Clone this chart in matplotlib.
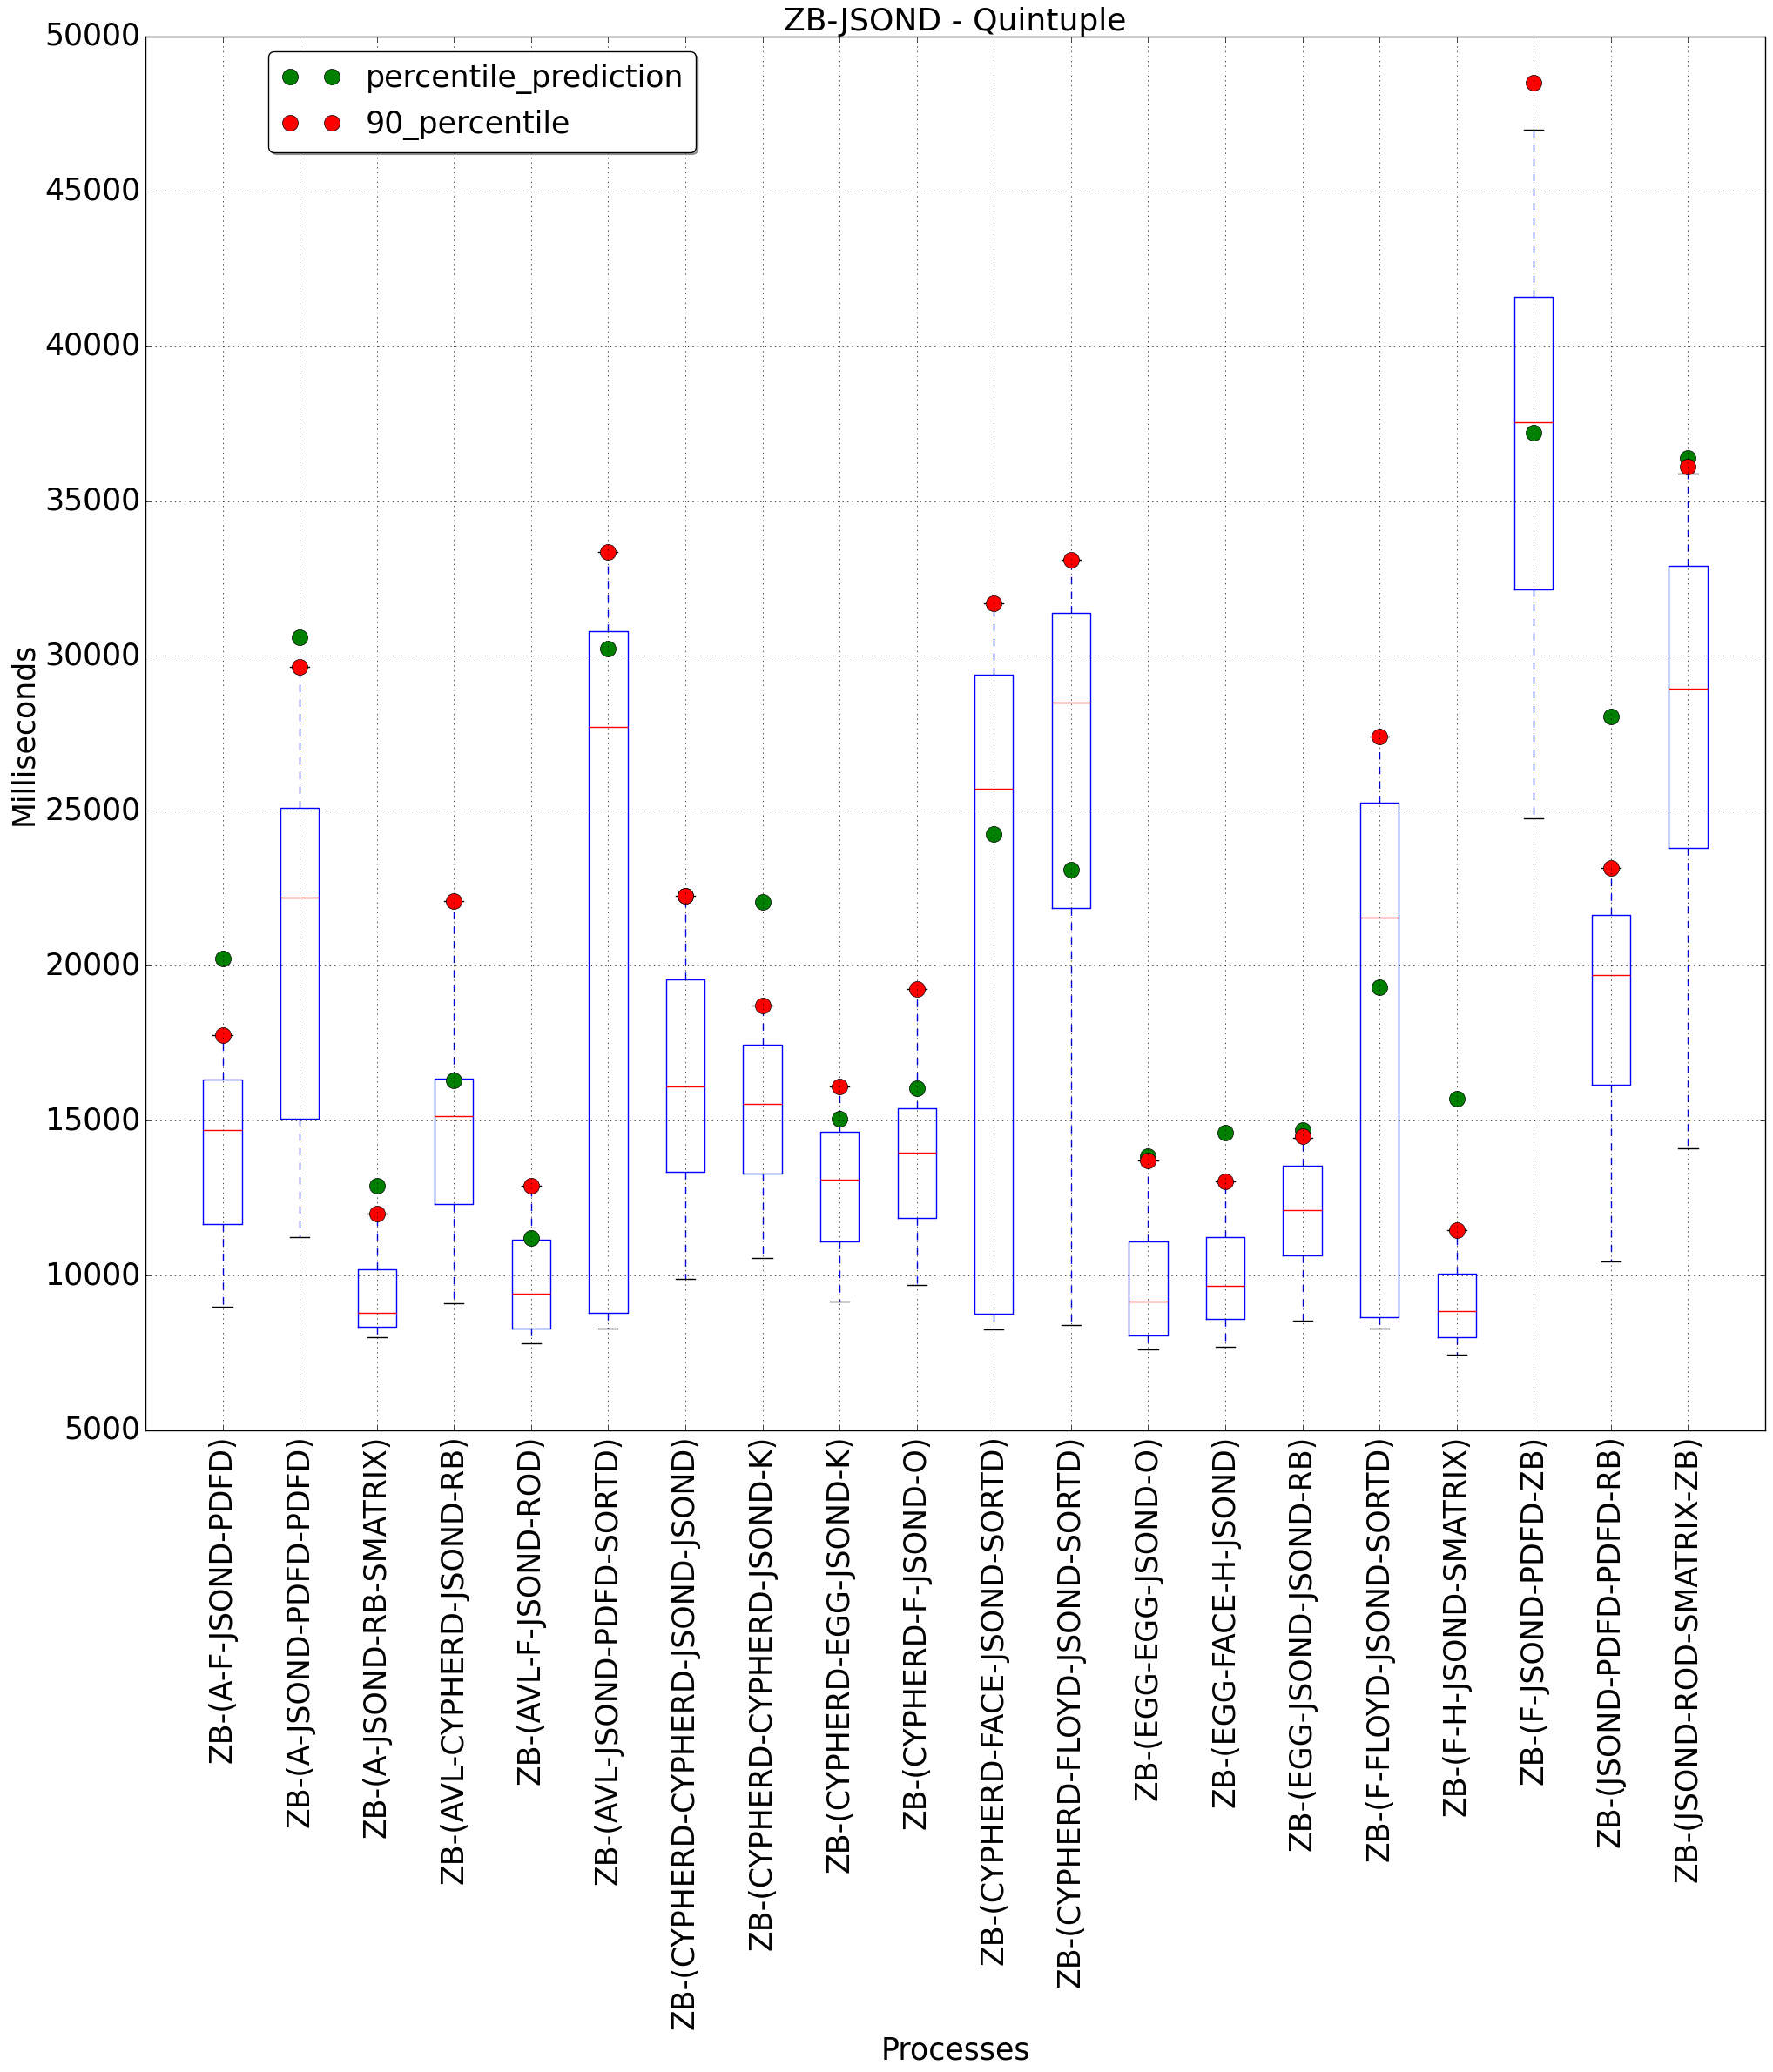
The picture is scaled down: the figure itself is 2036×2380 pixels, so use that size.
import numpy as np
import matplotlib
matplotlib.use('Agg')
import matplotlib.pyplot as plt

# ── DATA ────────────────────────────────────────────────────────
processes = [
    'ZB-(A-F-JSOND-PDFD)', 'ZB-(A-JSOND-PDFD-PDFD)', 'ZB-(A-JSOND-RB-SMATRIX)',
    'ZB-(AVL-CYPHERD-JSOND-RB)', 'ZB-(AVL-F-JSOND-ROD)', 'ZB-(AVL-JSOND-PDFD-SORTD)',
    'ZB-(CYPHERD-CYPHERD-JSOND-JSOND)', 'ZB-(CYPHERD-CYPHERD-JSOND-K)',
    'ZB-(CYPHERD-EGG-JSOND-K)', 'ZB-(CYPHERD-F-JSOND-O)',
    'ZB-(CYPHERD-FACE-JSOND-SORTD)', 'ZB-(CYPHERD-FLOYD-JSOND-SORTD)',
    'ZB-(EGG-EGG-JSOND-O)', 'ZB-(EGG-FACE-H-JSOND)', 'ZB-(EGG-JSOND-JSOND-RB)',
    'ZB-(F-FLOYD-JSOND-SORTD)', 'ZB-(F-H-JSOND-SMATRIX)', 'ZB-(F-JSOND-PDFD-ZB)',
    'ZB-(JSOND-PDFD-PDFD-RB)', 'ZB-(JSOND-ROD-SMATRIX-ZB)',
]
whisker_low = [9000, 11250, 8000, 9100, 7800, 8300, 9900, 10550, 9150, 9700,
               8250, 8400, 7600, 7700, 8550, 8300, 7450, 24750, 10450, 14100]
q1 = [11660, 15050, 8350, 12300, 8300, 8800, 13350, 13300, 11100, 11850,
      8750, 21850, 8050, 8600, 10650, 8650, 8000, 32150, 16150, 23800]
median = [14690, 22200, 8800, 15150, 9400, 27700, 16100, 15550, 13100, 13950,
          25700, 28500, 9150, 9650, 12100, 21550, 8850, 37550, 19700, 28950]
q3 = [16320, 25100, 10200, 16350, 11150, 30800, 19550, 17450, 14650, 15400,
      29400, 31400, 11100, 11250, 13550, 25250, 10050, 41600, 21650, 32900]
whisker_high = [17750, 29650, 12000, 22100, 12900, 33350, 22250, 18700, 16100, 19250,
                31700, 33100, 13700, 13050, 14450, 27400, 11450, 47000, 23150, 35900]
p90 = [17760, 29650, 12000, 22100, 12900, 33350, 22250, 18700, 16100, 19250,
       31700, 33100, 13700, 13050, 14500, 27400, 11450, 48500, 23150, 36100]
prediction = [20240, 30600, 12900, 16300, 11200, 30250, 22250, 22050, 15050, 16050,
              24250, 23100, 13850, 14600, 14700, 19300, 15700, 37200, 28050, 36400]

# ── PLOT ────────────────────────────────────────────────────────
plt.style.use('classic')
plt.rcParams['font.size'] = 25

fig = plt.figure(figsize=(20.36, 23.8), dpi=100)
ax = fig.add_axes([0.082, 0.3097, 0.9136, 0.6727])

stats = []
for i in range(len(processes)):
    stats.append({'whislo': whisker_low[i], 'q1': q1[i], 'med': median[i],
                  'q3': q3[i], 'whishi': whisker_high[i], 'fliers': []})

positions = np.arange(1, len(processes) + 1)
ax.bxp(stats, positions=positions, widths=0.5, showfliers=False)

ax.plot(positions, prediction, 'o', color='green', markeredgecolor='k',
        markersize=13, linestyle='none', label='percentile_prediction')
ax.plot(positions, p90, 'o', color='red', markeredgecolor='k',
        markersize=13, linestyle='none', label='90_percentile')

ax.set_xlim(0, len(processes) + 1)
ax.set_ylim(5000, 50000)
ax.set_yticks(np.arange(5000, 50001, 5000))
ax.set_xticks(positions)
ax.set_xticklabels(processes, rotation=90)
ax.grid(True)

ax.set_title('ZB-JSOND - Quintuple', fontsize=26)
ax.set_xlabel('Processes', fontsize=25)
ax.set_ylabel('Milliseconds', fontsize=25)

ax.legend(loc='upper left', bbox_to_anchor=(0.076, 0.989), borderaxespad=0,
          numpoints=2, fancybox=True, shadow=True, fontsize=25)

plt.savefig('out.png', dpi=100)
plt.close()
